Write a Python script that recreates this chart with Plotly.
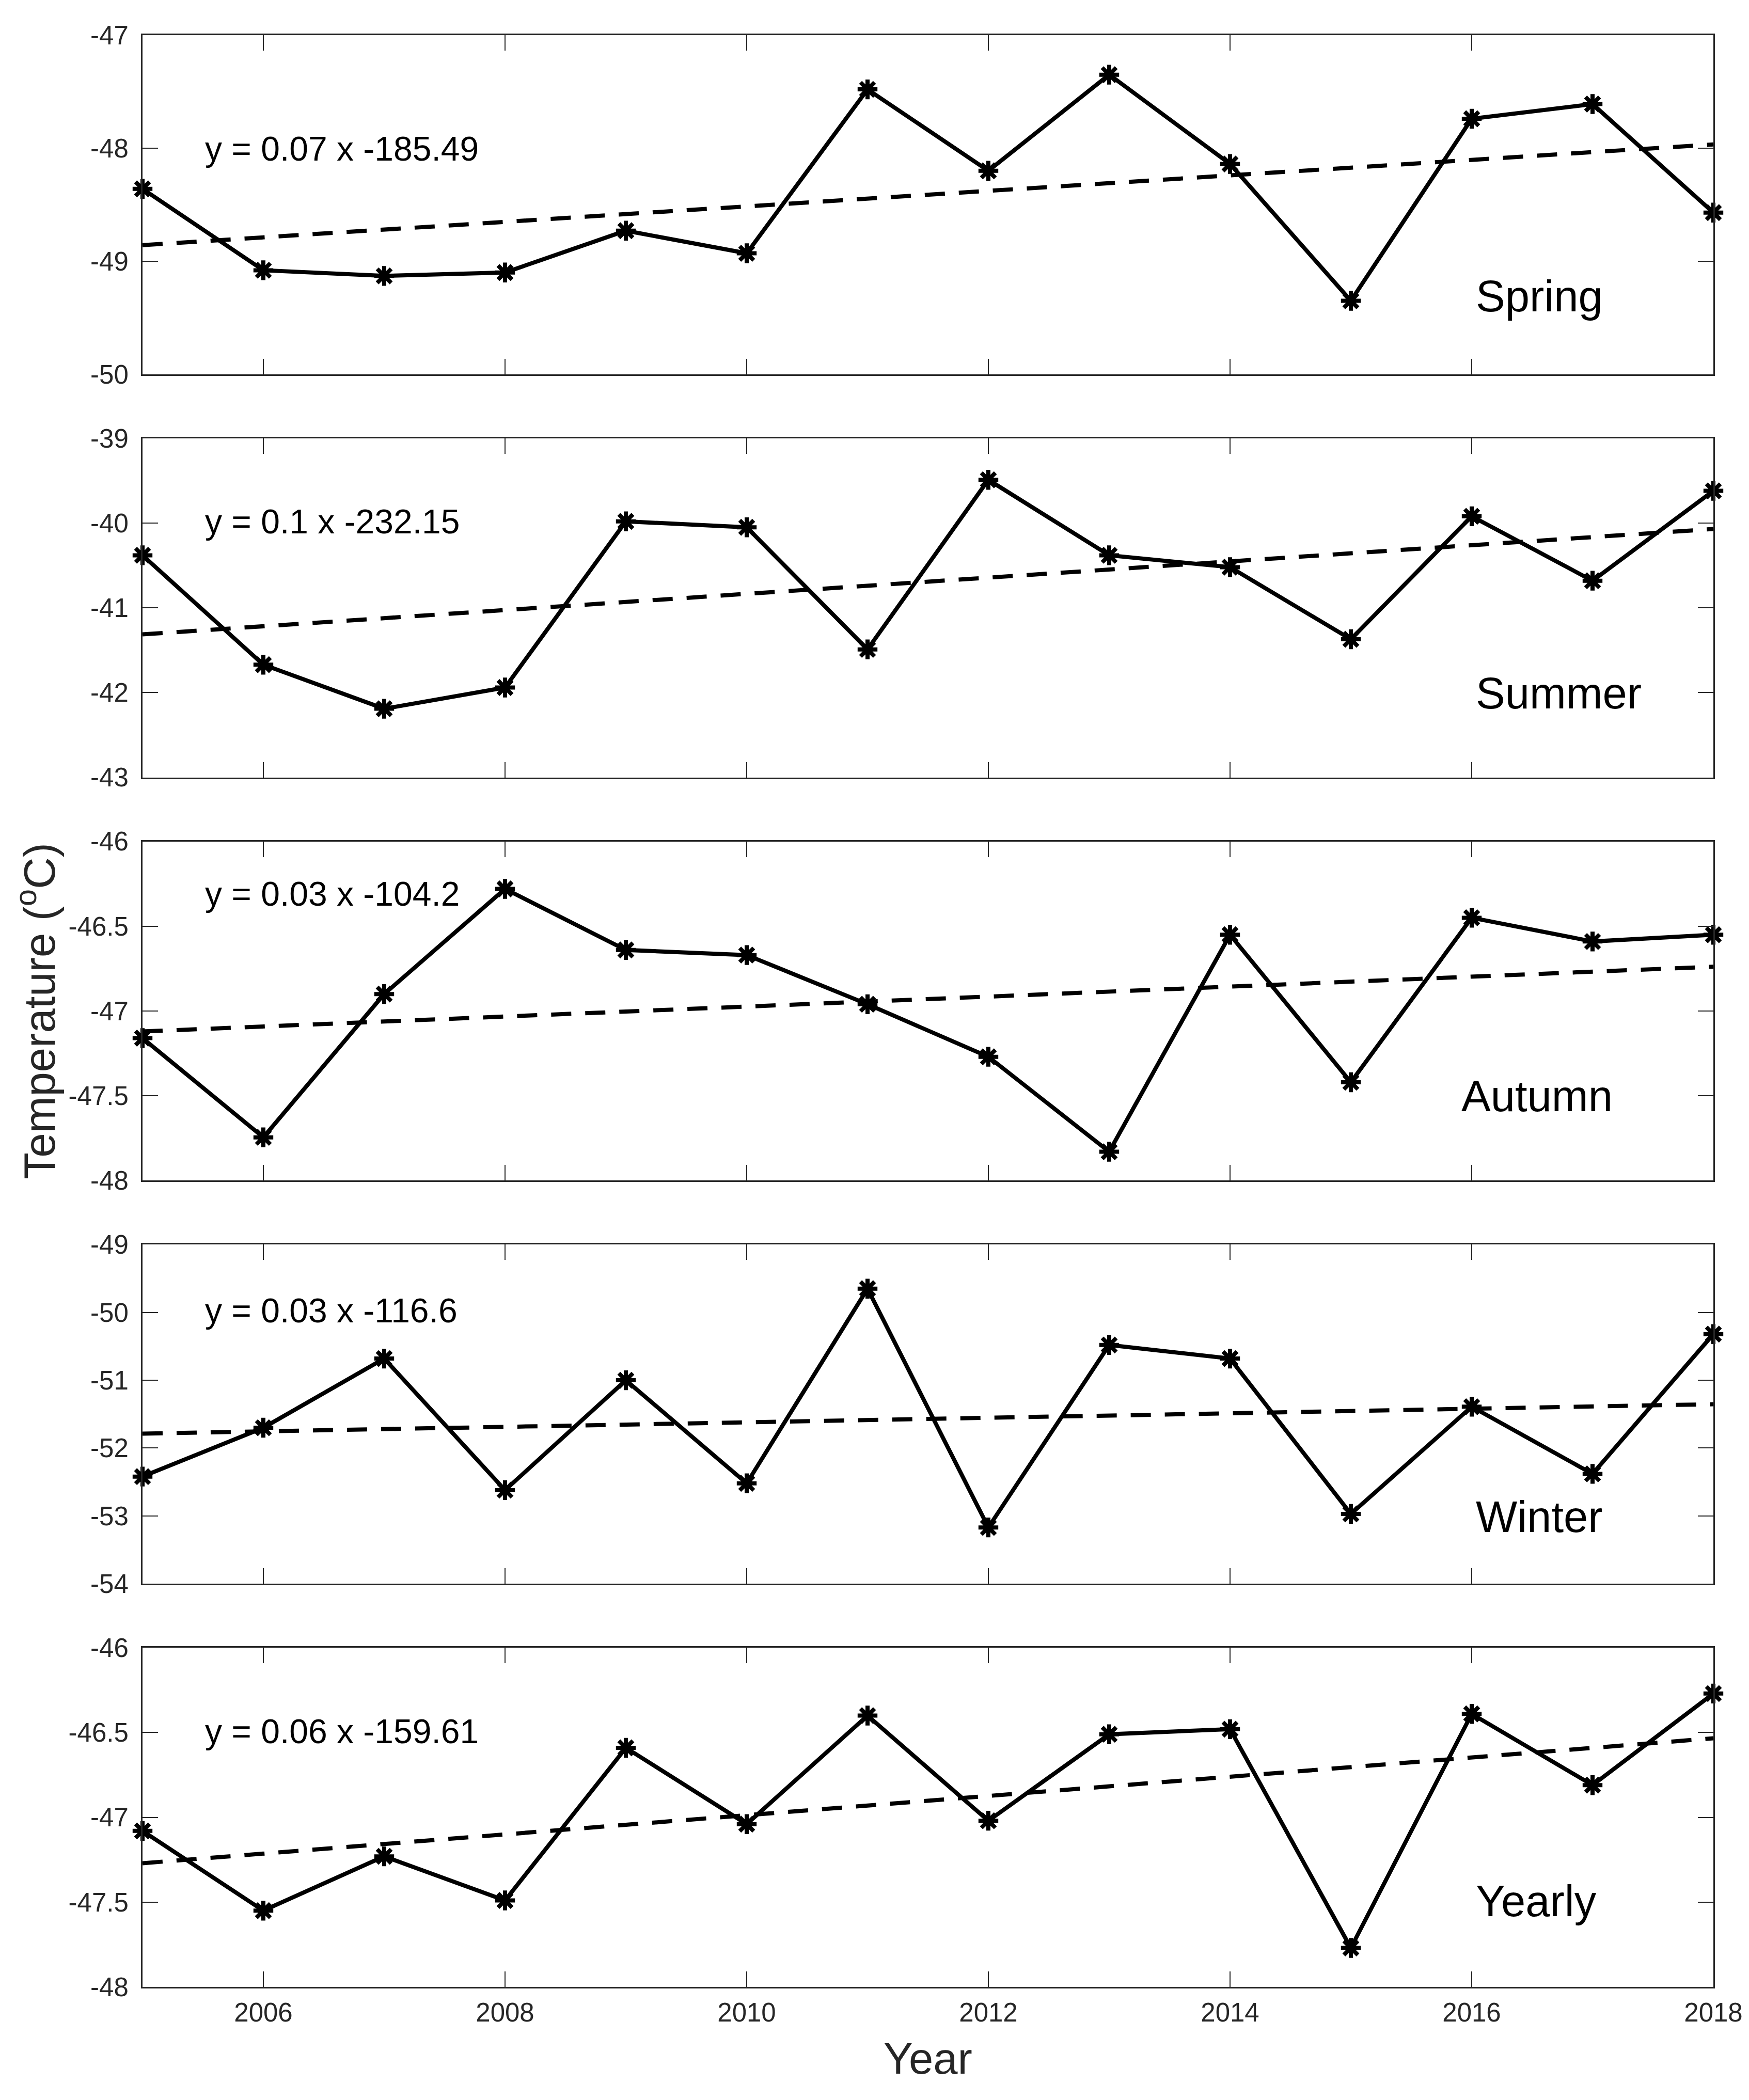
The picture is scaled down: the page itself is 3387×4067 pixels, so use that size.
import numpy as np
import plotly.graph_objects as go
from plotly.subplots import make_subplots

years = [2005, 2006, 2007, 2008, 2009, 2010, 2011, 2012, 2013, 2014, 2015, 2016, 2017, 2018]

spring = [-48.36, -49.08, -49.13, -49.10, -48.73, -48.93, -47.48, -48.20, -47.35, -48.14, -49.35, -47.74, -47.61, -48.57]
summer = [-40.38, -41.67, -42.19, -41.94, -39.98, -40.05, -41.49, -39.49, -40.38, -40.52, -41.37, -39.92, -40.68, -39.62]
autumn = [-47.16, -47.745, -46.90, -46.28, -46.64, -46.67, -46.96, -47.27, -47.83, -46.55, -47.42, -46.45, -46.59, -46.55]
winter = [-52.42, -51.70, -50.68, -52.62, -51.00, -52.52, -49.65, -53.17, -50.48, -50.68, -52.97, -51.39, -52.38, -50.32]
yearly = [-47.08, -47.55, -47.23, -47.49, -46.59, -47.04, -46.40, -47.02, -46.51, -46.48, -47.77, -46.39, -46.81, -46.27]

series = [spring, summer, autumn, winter, yearly]
season_names = ["Spring", "Summer", "Autumn", "Winter", "Yearly"]
equations = ["y = 0.07 x -185.49", "y = 0.1 x -232.15", "y = 0.03 x -104.2",
             "y = 0.03 x -116.6", "y = 0.06 x -159.61"]

y_ranges = [[-50, -47], [-43, -39], [-48, -46], [-54, -49], [-48, -46]]
y_ticks = [
    [-50, -49, -48, -47],
    [-43, -42, -41, -40, -39],
    [-48, -47.5, -47, -46.5, -46],
    [-54, -53, -52, -51, -50, -49],
    [-48, -47.5, -47, -46.5, -46],
]
x_ticks = [2006, 2008, 2010, 2012, 2014, 2016, 2018]

# annotation placement (axis-domain fractions)
eq_pos = [(0.039, 0.665), (0.039, 0.754), (0.039, 0.846), (0.039, 0.805), (0.039, 0.754)]
label_pos = [(0.848, 0.231), (0.848, 0.249), (0.839, 0.249), (0.848, 0.197), (0.848, 0.253)]

W, H = 3387, 4067
FONT = "Liberation Sans, Arial, Helvetica, sans-serif"
AX = "#262626"

fig = make_subplots(rows=5, cols=1, vertical_spacing=124 / 3780)

for i, vals in enumerate(series):
    r = i + 1
    coef = np.polyfit(years, vals, 1)
    trend = np.polyval(coef, years)
    fig.add_trace(go.Scatter(
        x=years, y=trend, mode="lines",
        line=dict(color="black", width=8, dash="39px,27px"),
        showlegend=False, hoverinfo="skip"), row=r, col=1)
    fig.add_trace(go.Scatter(
        x=years, y=vals, mode="lines+markers",
        line=dict(color="black", width=8),
        marker=dict(symbol="asterisk-open", size=32, color="black",
                    line=dict(color="black", width=8)),
        cliponaxis=False, showlegend=False), row=r, col=1)

    fig.update_yaxes(row=r, col=1, range=y_ranges[i], tickvals=y_ticks[i],
                     ticktext=[f"{v:g}" for v in y_ticks[i]],
                     showline=True, linecolor=AX, linewidth=3, mirror="ticks",
                     ticks="inside", ticklen=30, tickwidth=2, tickcolor=AX,
                     showgrid=False, zeroline=False, ticklabelstandoff=14,
                     tickfont=dict(family=FONT, size=51, color=AX))
    fig.update_xaxes(row=r, col=1, range=[2005, 2018], tickvals=x_ticks,
                     ticktext=[str(v) for v in x_ticks],
                     showticklabels=(r == 5),
                     showline=True, linecolor=AX, linewidth=3, mirror="ticks",
                     ticks="inside", ticklen=30, tickwidth=2, tickcolor=AX,
                     showgrid=False, zeroline=False, ticklabelstandoff=3,
                     tickfont=dict(family=FONT, size=51, color=AX))

    xref = "x domain" if r == 1 else f"x{r} domain"
    yref = "y domain" if r == 1 else f"y{r} domain"
    fig.add_annotation(x=eq_pos[i][0], y=eq_pos[i][1], xref=xref, yref=yref,
                       text=equations[i], showarrow=False, xanchor="left", yanchor="middle",
                       font=dict(family=FONT, size=66, color="black"))
    fig.add_annotation(x=label_pos[i][0], y=label_pos[i][1], xref=xref, yref=yref,
                       text=season_names[i], showarrow=False, xanchor="left", yanchor="middle",
                       font=dict(family=FONT, size=85, color="black"))

# shared axis titles (pixel positions converted to paper fractions below)
fig.add_annotation(x=62, y=1950, xref="paper", yref="paper",
                   text="Temperature (<sup>o</sup>C)", textangle=-90, showarrow=False,
                   xanchor="center", yanchor="middle",
                   font=dict(family=FONT, size=85, color=AX))
fig.add_annotation(x=1789, y=3978, xref="paper", yref="paper",
                   text="Year", showarrow=False, xanchor="center", yanchor="middle",
                   font=dict(family=FONT, size=85, color=AX))

fig.update_layout(width=W, height=H, margin=dict(l=268, r=77, t=60, b=227),
                  plot_bgcolor="white", paper_bgcolor="white", showlegend=False)

for a in fig.layout.annotations:
    if a.xref == "paper":
        a.x = (a.x - 268) / (W - 268 - 77)
        a.y = ((H - a.y) - 227) / (H - 60 - 227)

fig.write_html("out.html")
